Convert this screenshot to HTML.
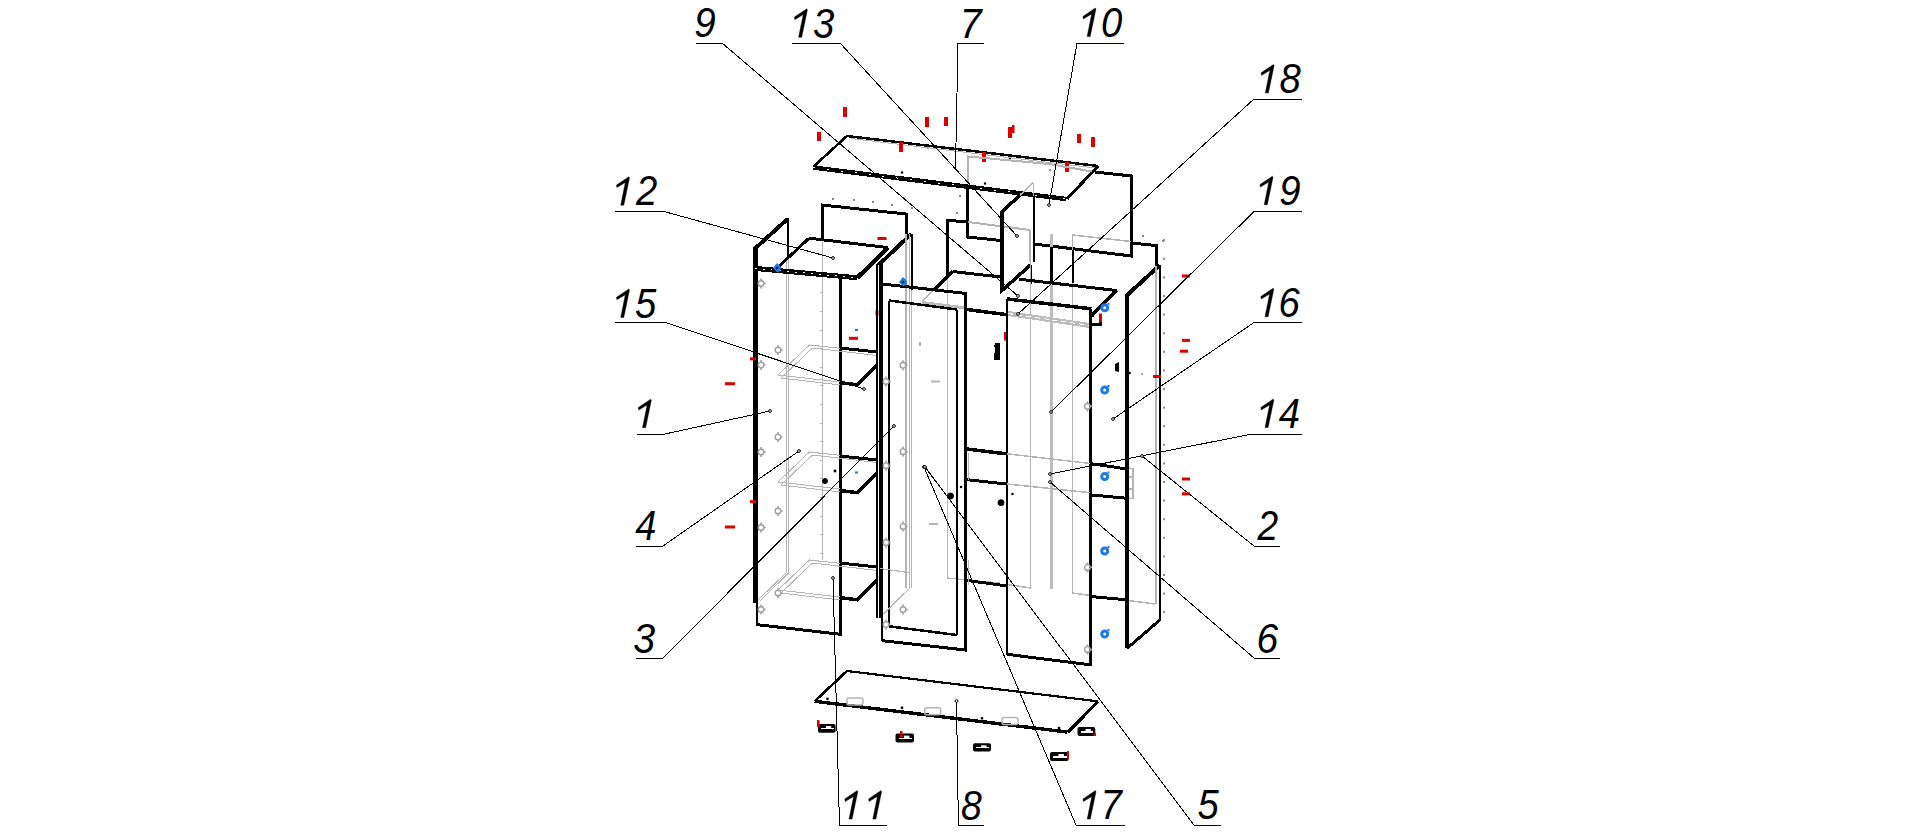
<!DOCTYPE html>
<html><head><meta charset="utf-8"><style>
html,body{margin:0;padding:0;background:#fff;width:1916px;height:834px;overflow:hidden}
svg{position:absolute;left:0;top:0}
line,polyline,polygon{shape-rendering:crispEdges}
.g{shape-rendering:geometricPrecision}
text{font-family:"Liberation Sans",sans-serif;font-style:italic;font-size:42.5px;fill:#000}
</style></head><body>
<svg width="1916" height="834" viewBox="0 0 1916 834">
<line x1="847" y1="136" x2="1098" y2="166" stroke="#000" stroke-width="2.5"/>
<line x1="813" y1="167" x2="847" y2="136" stroke="#000" stroke-width="2.6"/>
<line x1="813" y1="167.5" x2="1066" y2="199" stroke="#000" stroke-width="4.5"/>
<line x1="813" y1="167.5" x2="1066" y2="199" stroke="#fff" stroke-width="1" stroke-dasharray="2 12"/>
<rect x="900.9" y="171.4" width="2.2" height="2.2" fill="#000"/>
<rect x="983.9" y="182.4" width="2.2" height="2.2" fill="#000"/>
<rect x="1008.9" y="157.6" width="2.2" height="2.2" fill="#000"/>
<rect x="926.9" y="146.9" width="2.2" height="2.2" fill="#999"/>
<rect x="1048.9" y="168.9" width="2.2" height="2.2" fill="#999"/>
<line x1="1098" y1="166" x2="1067" y2="199" stroke="#000" stroke-width="3"/>
<line x1="851" y1="138.5" x2="1095" y2="168" stroke="#b4b4b4" stroke-width="1"/>
<rect x="843" y="107" width="4" height="10" fill="#e00000"/>
<rect x="817" y="132" width="4" height="9" fill="#e00000"/>
<rect x="899" y="142" width="4" height="10" fill="#e00000"/>
<rect x="925" y="117" width="4" height="10" fill="#e00000"/>
<rect x="944" y="117" width="4" height="9" fill="#e00000"/>
<rect x="1008" y="127" width="4" height="11" fill="#e00000"/>
<rect x="982" y="152" width="4" height="10" fill="#e00000"/>
<rect x="1065" y="162" width="4" height="10" fill="#e00000"/>
<rect x="1077" y="134" width="4" height="9" fill="#e00000"/>
<rect x="1091" y="137" width="4" height="10" fill="#e00000"/>
<rect x="1012" y="125" width="2.5" height="8" fill="#e00000"/>
<polyline points="822,239 822,205 906,214 906,237" fill="none" stroke="#000" stroke-width="3" stroke-linejoin="miter"/>
<line x1="822.5" y1="239" x2="822.5" y2="560" stroke="#b4b4b4" stroke-width="1"/>
<line x1="819.5" y1="292.8" x2="822.5" y2="292.8" stroke="#b4b4b4" stroke-width="1"/>
<line x1="819.5" y1="311.40000000000003" x2="822.5" y2="311.40000000000003" stroke="#b4b4b4" stroke-width="1"/>
<line x1="819.5" y1="330.00000000000006" x2="822.5" y2="330.00000000000006" stroke="#b4b4b4" stroke-width="1"/>
<line x1="819.5" y1="348.6000000000001" x2="822.5" y2="348.6000000000001" stroke="#b4b4b4" stroke-width="1"/>
<line x1="819.5" y1="367.2000000000001" x2="822.5" y2="367.2000000000001" stroke="#b4b4b4" stroke-width="1"/>
<line x1="819.5" y1="385.8000000000001" x2="822.5" y2="385.8000000000001" stroke="#b4b4b4" stroke-width="1"/>
<line x1="819.5" y1="404.40000000000015" x2="822.5" y2="404.40000000000015" stroke="#b4b4b4" stroke-width="1"/>
<line x1="819.5" y1="423.00000000000017" x2="822.5" y2="423.00000000000017" stroke="#b4b4b4" stroke-width="1"/>
<line x1="819.5" y1="441.6000000000002" x2="822.5" y2="441.6000000000002" stroke="#b4b4b4" stroke-width="1"/>
<line x1="819.5" y1="460.2000000000002" x2="822.5" y2="460.2000000000002" stroke="#b4b4b4" stroke-width="1"/>
<line x1="819.5" y1="478.80000000000024" x2="822.5" y2="478.80000000000024" stroke="#b4b4b4" stroke-width="1"/>
<line x1="819.5" y1="497.40000000000026" x2="822.5" y2="497.40000000000026" stroke="#b4b4b4" stroke-width="1"/>
<line x1="819.5" y1="516.0000000000002" x2="822.5" y2="516.0000000000002" stroke="#b4b4b4" stroke-width="1"/>
<line x1="819.5" y1="534.6000000000003" x2="822.5" y2="534.6000000000003" stroke="#b4b4b4" stroke-width="1"/>
<line x1="819.5" y1="553.2000000000003" x2="822.5" y2="553.2000000000003" stroke="#b4b4b4" stroke-width="1"/>
<polyline points="786,573 758,600" fill="none" stroke="#b4b4b4" stroke-width="1" stroke-linejoin="miter"/>
<polyline points="788.5,573 760,601" fill="none" stroke="#b4b4b4" stroke-width="1" stroke-linejoin="miter"/>
<rect x="832.0" y="198.0" width="2.0" height="2.0" fill="#888"/>
<rect x="853.0" y="199.0" width="2.0" height="2.0" fill="#888"/>
<rect x="872.0" y="201.0" width="2.0" height="2.0" fill="#888"/>
<rect x="891.0" y="204.0" width="2.0" height="2.0" fill="#888"/>
<rect x="911.0" y="207.0" width="2.0" height="2.0" fill="#888"/>
<rect x="956.0" y="212.0" width="2.0" height="2.0" fill="#888"/>
<rect x="959.0" y="195.0" width="2.0" height="2.0" fill="#888"/>
<polyline points="967.5,186 967.5,237 1001,240.5" fill="none" stroke="#000" stroke-width="3" stroke-linejoin="miter"/>
<polyline points="968,182 968,156.5 1049,164 1092,171.5" fill="none" stroke="#b4b4b4" stroke-width="2" stroke-linejoin="miter"/>
<line x1="968" y1="222" x2="1030" y2="230" stroke="#b4b4b4" stroke-width="2"/>
<line x1="1030" y1="230" x2="1030" y2="262" stroke="#b4b4b4" stroke-width="1.5"/>
<polyline points="1020,195 1002,211.8 1002,290.5 1030.5,265" fill="none" stroke="#000" stroke-width="3.5" stroke-linejoin="miter"/>
<line x1="1033.5" y1="195.6" x2="1033.5" y2="262" stroke="#000" stroke-width="2"/>
<line x1="1020" y1="195" x2="1033" y2="183" stroke="#b4b4b4" stroke-width="1.5"/>
<line x1="1033.5" y1="183" x2="1033.5" y2="196" stroke="#b4b4b4" stroke-width="1.5"/>
<polyline points="1095,172 1131.5,176 1131.5,256 1034,244" fill="none" stroke="#000" stroke-width="3" stroke-linejoin="miter"/>
<polyline points="1072.5,249 1072.5,235 1131,241.5" fill="none" stroke="#b4b4b4" stroke-width="1.5" stroke-linejoin="miter"/>
<polyline points="1131.5,243 1156,245.5 1156,266" fill="none" stroke="#000" stroke-width="3" stroke-linejoin="miter"/>
<polyline points="947.5,275 947.5,220.5 967,221.7" fill="none" stroke="#000" stroke-width="3" stroke-linejoin="miter"/>
<line x1="947.5" y1="275" x2="947.5" y2="578" stroke="#b4b4b4" stroke-width="1"/>
<line x1="947.5" y1="578" x2="1000" y2="583" stroke="#b4b4b4" stroke-width="1.2"/>
<line x1="1051.5" y1="234" x2="1051.5" y2="589" stroke="#bdbdbd" stroke-width="3"/>
<line x1="1072.5" y1="249" x2="1072.5" y2="593" stroke="#b4b4b4" stroke-width="1"/>
<line x1="1051.5" y1="246.5" x2="1051.5" y2="282" stroke="#000" stroke-width="3"/>
<line x1="1072.5" y1="249.5" x2="1072.5" y2="283" stroke="#000" stroke-width="2"/>
<line x1="1030.5" y1="265" x2="1030.5" y2="283.5" stroke="#000" stroke-width="2"/>
<line x1="1030.5" y1="230" x2="1030.5" y2="588" stroke="#b4b4b4" stroke-width="1"/>
<line x1="1007" y1="584.5" x2="1031" y2="588" stroke="#b4b4b4" stroke-width="1.5"/>
<line x1="1072" y1="593" x2="1155" y2="604" stroke="#b4b4b4" stroke-width="1.5"/>
<line x1="952.5" y1="271.5" x2="1002" y2="277.2" stroke="#000" stroke-width="3"/>
<line x1="1019" y1="279.2" x2="1116.5" y2="290.5" stroke="#000" stroke-width="3"/>
<line x1="952.5" y1="271.5" x2="935" y2="289" stroke="#000" stroke-width="3"/>
<line x1="935" y1="289" x2="922" y2="301.5" stroke="#b4b4b4" stroke-width="1.5"/>
<line x1="1116.5" y1="290.5" x2="1091.4" y2="315.8" stroke="#000" stroke-width="4"/>
<line x1="966" y1="309.4" x2="1007.2" y2="314.7" stroke="#000" stroke-width="3.5"/>
<line x1="922" y1="302.5" x2="966" y2="308" stroke="#bcbcbc" stroke-width="3"/>
<line x1="1008" y1="313.5" x2="1090" y2="325.5" stroke="#bcbcbc" stroke-width="5"/>
<line x1="1008" y1="313.5" x2="1090" y2="325.5" stroke="#fff" stroke-width="1" stroke-dasharray="5 4"/>
<polyline points="1091,324.5 1100.5,324.5 1100.5,317" fill="none" stroke="#000" stroke-width="2.5" stroke-linejoin="miter"/>
<line x1="755.5" y1="248" x2="755.5" y2="603" stroke="#000" stroke-width="5"/>
<line x1="756.5" y1="603" x2="756.5" y2="624.5" stroke="#000" stroke-width="2"/>
<line x1="754" y1="249.5" x2="787.5" y2="219" stroke="#000" stroke-width="4"/>
<line x1="788" y1="218" x2="788" y2="258" stroke="#000" stroke-width="2"/>
<line x1="786.5" y1="257" x2="786.5" y2="573" stroke="#b4b4b4" stroke-width="1"/>
<line x1="788.5" y1="257" x2="788.5" y2="573" stroke="#b4b4b4" stroke-width="1"/>
<line x1="755" y1="268.4" x2="857.3" y2="277.8" stroke="#000" stroke-width="5"/>
<line x1="755" y1="268.4" x2="857.3" y2="277.8" stroke="#fff" stroke-width="1" stroke-dasharray="2 6"/>
<line x1="777.4" y1="267.7" x2="809" y2="238.2" stroke="#000" stroke-width="3"/>
<line x1="809" y1="238.2" x2="888.2" y2="247.6" stroke="#000" stroke-width="3"/>
<line x1="888.2" y1="247.6" x2="857.3" y2="277.8" stroke="#000" stroke-width="4.5"/>
<line x1="840.5" y1="277" x2="840.5" y2="635" stroke="#000" stroke-width="3"/>
<line x1="756" y1="624.5" x2="842" y2="634.5" stroke="#000" stroke-width="3"/>
<polyline points="840,382 778,375 809.4,345 877,352.5" fill="none" stroke="#b4b4b4" stroke-width="1" stroke-linejoin="miter"/>
<polyline points="840,385 781,378 812.4,348 877,355.5" fill="none" stroke="#b4b4b4" stroke-width="1" stroke-linejoin="miter"/>
<polyline points="840,489 778,482 809.4,452 877,459.5" fill="none" stroke="#b4b4b4" stroke-width="1" stroke-linejoin="miter"/>
<polyline points="840,492 781,485 812.4,455 877,462.5" fill="none" stroke="#b4b4b4" stroke-width="1" stroke-linejoin="miter"/>
<polyline points="840,597 778,590 809.4,560 877,567.5" fill="none" stroke="#b4b4b4" stroke-width="1" stroke-linejoin="miter"/>
<polyline points="840,600 781,593 812.4,563 877,570.5" fill="none" stroke="#b4b4b4" stroke-width="1" stroke-linejoin="miter"/>
<line x1="840" y1="348" x2="877" y2="352" stroke="#000" stroke-width="3"/>
<polyline points="840,382.6 857.7,384.8 877,365.0" fill="none" stroke="#000" stroke-width="3.5" stroke-linejoin="miter"/>
<line x1="840" y1="456" x2="877" y2="460" stroke="#000" stroke-width="3"/>
<polyline points="840,490.5 857.7,492.7 877,472.9" fill="none" stroke="#000" stroke-width="3.5" stroke-linejoin="miter"/>
<line x1="840" y1="563" x2="877" y2="567" stroke="#000" stroke-width="3"/>
<polyline points="840,597.6 857.7,599.8000000000001 877,580.0" fill="none" stroke="#000" stroke-width="3.5" stroke-linejoin="miter"/>
<circle cx="761" cy="283.5" r="2.8" fill="none" stroke="#a0a0a0" stroke-width="1.4"/>
<rect x="760.2" y="278.5" width="1.6" height="2" fill="#a0a0a0"/>
<rect x="763.6" y="282.7" width="2" height="1.6" fill="#a0a0a0"/>
<rect x="760.2" y="286.5" width="1.6" height="2" fill="#a0a0a0"/>
<circle cx="761" cy="365" r="2.8" fill="none" stroke="#a0a0a0" stroke-width="1.4"/>
<rect x="760.2" y="360" width="1.6" height="2" fill="#a0a0a0"/>
<rect x="763.6" y="364.2" width="2" height="1.6" fill="#a0a0a0"/>
<rect x="760.2" y="368" width="1.6" height="2" fill="#a0a0a0"/>
<circle cx="761" cy="452" r="2.8" fill="none" stroke="#a0a0a0" stroke-width="1.4"/>
<rect x="760.2" y="447" width="1.6" height="2" fill="#a0a0a0"/>
<rect x="763.6" y="451.2" width="2" height="1.6" fill="#a0a0a0"/>
<rect x="760.2" y="455" width="1.6" height="2" fill="#a0a0a0"/>
<circle cx="761" cy="527.5" r="2.8" fill="none" stroke="#a0a0a0" stroke-width="1.4"/>
<rect x="760.2" y="522.5" width="1.6" height="2" fill="#a0a0a0"/>
<rect x="763.6" y="526.7" width="2" height="1.6" fill="#a0a0a0"/>
<rect x="760.2" y="530.5" width="1.6" height="2" fill="#a0a0a0"/>
<circle cx="761" cy="609.5" r="2.8" fill="none" stroke="#a0a0a0" stroke-width="1.4"/>
<rect x="760.2" y="604.5" width="1.6" height="2" fill="#a0a0a0"/>
<rect x="763.6" y="608.7" width="2" height="1.6" fill="#a0a0a0"/>
<rect x="760.2" y="612.5" width="1.6" height="2" fill="#a0a0a0"/>
<circle cx="778" cy="350" r="2.8" fill="none" stroke="#a0a0a0" stroke-width="1.4"/>
<rect x="777.2" y="345" width="1.6" height="2" fill="#a0a0a0"/>
<rect x="780.6" y="349.2" width="2" height="1.6" fill="#a0a0a0"/>
<rect x="777.2" y="353" width="1.6" height="2" fill="#a0a0a0"/>
<circle cx="778" cy="437" r="2.8" fill="none" stroke="#a0a0a0" stroke-width="1.4"/>
<rect x="777.2" y="432" width="1.6" height="2" fill="#a0a0a0"/>
<rect x="780.6" y="436.2" width="2" height="1.6" fill="#a0a0a0"/>
<rect x="777.2" y="440" width="1.6" height="2" fill="#a0a0a0"/>
<circle cx="778" cy="511" r="2.8" fill="none" stroke="#a0a0a0" stroke-width="1.4"/>
<rect x="777.2" y="506" width="1.6" height="2" fill="#a0a0a0"/>
<rect x="780.6" y="510.2" width="2" height="1.6" fill="#a0a0a0"/>
<rect x="777.2" y="514" width="1.6" height="2" fill="#a0a0a0"/>
<circle cx="778" cy="593" r="2.8" fill="none" stroke="#a0a0a0" stroke-width="1.4"/>
<rect x="777.2" y="588" width="1.6" height="2" fill="#a0a0a0"/>
<rect x="780.6" y="592.2" width="2" height="1.6" fill="#a0a0a0"/>
<rect x="777.2" y="596" width="1.6" height="2" fill="#a0a0a0"/>
<rect x="750" y="357.3" width="6" height="3" fill="#e00000"/>
<rect x="725" y="382.2" width="10" height="3" fill="#e00000"/>
<rect x="750" y="500.1" width="6" height="3" fill="#e00000"/>
<rect x="725" y="525.5" width="10" height="3" fill="#e00000"/>
<rect x="849" y="336.8" width="9" height="3" fill="#e00000"/>
<rect x="877.5" y="237" width="9" height="3" fill="#e00000"/>
<rect x="875.5" y="310.5" width="3" height="5" fill="#e00000"/>
<rect x="919" y="342" width="2" height="4" fill="#aaa"/>
<rect x="855" y="329" width="3" height="2" fill="#1e78e6"/>
<rect x="855" y="471.5" width="3" height="2" fill="#1e78e6"/>
<rect x="833.7" y="469.7" width="2.6" height="2.6" fill="#000"/>
<circle cx="825" cy="481" r="2.5" fill="#000" stroke="#000" stroke-width="1"/>
<line x1="877" y1="263.6" x2="877" y2="618.4" stroke="#000" stroke-width="2"/>
<line x1="881" y1="263.6" x2="881" y2="618.4" stroke="#000" stroke-width="4"/>
<line x1="882" y1="618" x2="882" y2="641" stroke="#000" stroke-width="2"/>
<line x1="878.5" y1="265" x2="911.3" y2="234" stroke="#000" stroke-width="4"/>
<line x1="911.5" y1="234" x2="911.5" y2="290" stroke="#000" stroke-width="2"/>
<line x1="906" y1="234" x2="906" y2="588" stroke="#b4b4b4" stroke-width="2"/>
<line x1="909.5" y1="234" x2="909.5" y2="588" stroke="#b4b4b4" stroke-width="1"/>
<line x1="911.5" y1="290" x2="911.5" y2="588" stroke="#b4b4b4" stroke-width="1"/>
<polyline points="882,284 965.5,293.4 965.5,650 882,640.7" fill="none" stroke="#000" stroke-width="3" stroke-linejoin="miter"/>
<line x1="889" y1="300.5" x2="889" y2="627" stroke="#000" stroke-width="2"/>
<line x1="957" y1="309.5" x2="957" y2="635" stroke="#000" stroke-width="2"/>
<line x1="889" y1="300.5" x2="957" y2="309.5" stroke="#000" stroke-width="2.5"/>
<line x1="889" y1="626.3" x2="957" y2="635" stroke="#000" stroke-width="2.5"/>
<line x1="880" y1="568.5" x2="910" y2="572.8" stroke="#b4b4b4" stroke-width="1.2"/>
<line x1="883.6" y1="613.8" x2="910" y2="588" stroke="#b4b4b4" stroke-width="1.2"/>
<circle cx="903" cy="365.3" r="2.8" fill="none" stroke="#a0a0a0" stroke-width="1.4"/>
<rect x="902.2" y="360.3" width="1.6" height="2" fill="#a0a0a0"/>
<rect x="905.6" y="364.5" width="2" height="1.6" fill="#a0a0a0"/>
<rect x="902.2" y="368.3" width="1.6" height="2" fill="#a0a0a0"/>
<circle cx="886" cy="381.5" r="2.8" fill="none" stroke="#a0a0a0" stroke-width="1.4"/>
<rect x="885.2" y="376.5" width="1.6" height="2" fill="#a0a0a0"/>
<rect x="888.6" y="380.7" width="2" height="1.6" fill="#a0a0a0"/>
<rect x="885.2" y="384.5" width="1.6" height="2" fill="#a0a0a0"/>
<circle cx="903" cy="451.7" r="2.8" fill="none" stroke="#a0a0a0" stroke-width="1.4"/>
<rect x="902.2" y="446.7" width="1.6" height="2" fill="#a0a0a0"/>
<rect x="905.6" y="450.9" width="2" height="1.6" fill="#a0a0a0"/>
<rect x="902.2" y="454.7" width="1.6" height="2" fill="#a0a0a0"/>
<circle cx="886" cy="465.7" r="2.8" fill="none" stroke="#a0a0a0" stroke-width="1.4"/>
<rect x="885.2" y="460.7" width="1.6" height="2" fill="#a0a0a0"/>
<rect x="888.6" y="464.9" width="2" height="1.6" fill="#a0a0a0"/>
<rect x="885.2" y="468.7" width="1.6" height="2" fill="#a0a0a0"/>
<circle cx="903" cy="526.4" r="2.8" fill="none" stroke="#a0a0a0" stroke-width="1.4"/>
<rect x="902.2" y="521.4" width="1.6" height="2" fill="#a0a0a0"/>
<rect x="905.6" y="525.6" width="2" height="1.6" fill="#a0a0a0"/>
<rect x="902.2" y="529.4" width="1.6" height="2" fill="#a0a0a0"/>
<circle cx="886" cy="542.6" r="2.8" fill="none" stroke="#a0a0a0" stroke-width="1.4"/>
<rect x="885.2" y="537.6" width="1.6" height="2" fill="#a0a0a0"/>
<rect x="888.6" y="541.8000000000001" width="2" height="1.6" fill="#a0a0a0"/>
<rect x="885.2" y="545.6" width="1.6" height="2" fill="#a0a0a0"/>
<circle cx="903" cy="609.5" r="2.8" fill="none" stroke="#a0a0a0" stroke-width="1.4"/>
<rect x="902.2" y="604.5" width="1.6" height="2" fill="#a0a0a0"/>
<rect x="905.6" y="608.7" width="2" height="1.6" fill="#a0a0a0"/>
<rect x="902.2" y="612.5" width="1.6" height="2" fill="#a0a0a0"/>
<circle cx="886" cy="624.6" r="2.8" fill="none" stroke="#a0a0a0" stroke-width="1.4"/>
<rect x="885.2" y="619.6" width="1.6" height="2" fill="#a0a0a0"/>
<rect x="888.6" y="623.8000000000001" width="2" height="1.6" fill="#a0a0a0"/>
<rect x="885.2" y="627.6" width="1.6" height="2" fill="#a0a0a0"/>
<rect x="931" y="380.5" width="9" height="2" fill="#b4b4b4"/>
<rect x="929" y="523" width="9" height="2" fill="#b4b4b4"/>
<rect x="995" y="343" width="5" height="17" fill="#000"/>
<rect x="994" y="353" width="6" height="7" fill="#000"/>
<rect x="994" y="345" width="2" height="2" fill="#000"/>
<rect x="1004" y="332" width="3" height="8.5" fill="#e00000"/>
<circle cx="950.5" cy="496" r="3" fill="#000" stroke="#000" stroke-width="1"/>
<circle cx="1001" cy="502.7" r="3" fill="#000" stroke="#000" stroke-width="1"/>
<line x1="1007" y1="299" x2="1007" y2="655" stroke="#000" stroke-width="2"/>
<line x1="966.7" y1="449" x2="1006" y2="453.8" stroke="#000" stroke-width="3.5"/>
<line x1="967" y1="479.7" x2="1006" y2="484" stroke="#000" stroke-width="3"/>
<line x1="966.7" y1="580.4" x2="1006" y2="585.8" stroke="#000" stroke-width="3"/>
<line x1="968.5" y1="453" x2="968.5" y2="480" stroke="#b4b4b4" stroke-width="1.3"/>
<line x1="968.5" y1="585" x2="968.5" y2="560" stroke="#b4b4b4" stroke-width="1.3"/>
<rect x="959.9" y="485.9" width="2.2" height="2.2" fill="#000"/>
<rect x="1011.4" y="492.9" width="2.2" height="2.2" fill="#000"/>
<polyline points="1128,468 1133,468.5 1133,498.5 1128,498" fill="none" stroke="#b4b4b4" stroke-width="1.3" stroke-linejoin="miter"/>
<line x1="1129" y1="477" x2="1133" y2="477" stroke="#b4b4b4" stroke-width="1.2"/>
<line x1="1129" y1="489" x2="1133" y2="489" stroke="#b4b4b4" stroke-width="1.2"/>
<line x1="1007.2" y1="299" x2="1091.4" y2="308.8" stroke="#000" stroke-width="3.5"/>
<line x1="1007" y1="654.3" x2="1091.7" y2="665" stroke="#000" stroke-width="3"/>
<line x1="1090.5" y1="309" x2="1090.5" y2="665" stroke="#000" stroke-width="3"/>
<line x1="1007" y1="453.8" x2="1090" y2="463.5" stroke="#b4b4b4" stroke-width="1.5"/>
<line x1="1007" y1="484" x2="1090" y2="492.7" stroke="#b4b4b4" stroke-width="1.5"/>
<circle cx="1087.4" cy="406.3" r="2.8" fill="none" stroke="#a0a0a0" stroke-width="1.4"/>
<rect x="1086.6000000000001" y="401.3" width="1.6" height="2" fill="#a0a0a0"/>
<rect x="1090.0" y="405.5" width="2" height="1.6" fill="#a0a0a0"/>
<rect x="1086.6000000000001" y="409.3" width="1.6" height="2" fill="#a0a0a0"/>
<circle cx="1087.4" cy="567.4" r="2.8" fill="none" stroke="#a0a0a0" stroke-width="1.4"/>
<rect x="1086.6000000000001" y="562.4" width="1.6" height="2" fill="#a0a0a0"/>
<rect x="1090.0" y="566.6" width="2" height="1.6" fill="#a0a0a0"/>
<rect x="1086.6000000000001" y="570.4" width="1.6" height="2" fill="#a0a0a0"/>
<circle cx="1087.4" cy="649.4" r="2.8" fill="none" stroke="#a0a0a0" stroke-width="1.4"/>
<rect x="1086.6000000000001" y="644.4" width="1.6" height="2" fill="#a0a0a0"/>
<rect x="1090.0" y="648.6" width="2" height="1.6" fill="#a0a0a0"/>
<rect x="1086.6000000000001" y="652.4" width="1.6" height="2" fill="#a0a0a0"/>
<line x1="1127" y1="295" x2="1127" y2="648.4" stroke="#000" stroke-width="3.8"/>
<line x1="1125.5" y1="296.5" x2="1159.5" y2="265.5" stroke="#000" stroke-width="4"/>
<line x1="1160" y1="265" x2="1160" y2="621" stroke="#000" stroke-width="2"/>
<line x1="1156" y1="266" x2="1156" y2="604" stroke="#b4b4b4" stroke-width="2"/>
<line x1="1127" y1="648.4" x2="1159.5" y2="620.3" stroke="#000" stroke-width="3"/>
<line x1="1090" y1="463.5" x2="1127" y2="469" stroke="#000" stroke-width="3"/>
<line x1="1090" y1="494.8" x2="1127" y2="498.3" stroke="#000" stroke-width="3"/>
<line x1="1090" y1="596.5" x2="1127" y2="599.8" stroke="#000" stroke-width="3"/>
<circle cx="1104.7" cy="307.8" r="3" fill="none" stroke="#1e78e6" stroke-width="3"/>
<rect x="1107.5" y="302.8" width="2" height="2" fill="#1e78e6"/>
<circle cx="1104.7" cy="390" r="3" fill="none" stroke="#1e78e6" stroke-width="3"/>
<rect x="1107.5" y="385" width="2" height="2" fill="#1e78e6"/>
<circle cx="1104.7" cy="476.5" r="3" fill="none" stroke="#1e78e6" stroke-width="3"/>
<rect x="1107.5" y="471.5" width="2" height="2" fill="#1e78e6"/>
<circle cx="1104.7" cy="551" r="3" fill="none" stroke="#1e78e6" stroke-width="3"/>
<rect x="1107.5" y="546" width="2" height="2" fill="#1e78e6"/>
<circle cx="1104.7" cy="634" r="3" fill="none" stroke="#1e78e6" stroke-width="3"/>
<rect x="1107.5" y="629" width="2" height="2" fill="#1e78e6"/>
<path d="M1115 364 L1119 362 L1119 372 L1115 371 Z" fill="#000"/>
<rect x="1182" y="338.9" width="8" height="3" fill="#e00000"/>
<rect x="1180" y="349.7" width="8" height="3" fill="#e00000"/>
<rect x="1153" y="375.0" width="8" height="3" fill="#e00000"/>
<rect x="1182" y="477.5" width="8" height="3" fill="#e00000"/>
<rect x="1182" y="492.3" width="8" height="3" fill="#e00000"/>
<rect x="1182" y="274.5" width="8" height="3" fill="#e00000"/>
<rect x="1099" y="313.5" width="3" height="8.5" fill="#e00000"/>
<rect x="1163.0" y="239.2" width="2.0" height="2.0" fill="#888"/>
<rect x="1163.0" y="257.8" width="2.0" height="2.0" fill="#888"/>
<rect x="1163.0" y="276.40000000000003" width="2.0" height="2.0" fill="#888"/>
<rect x="1163.0" y="295.00000000000006" width="2.0" height="2.0" fill="#888"/>
<rect x="1163.0" y="313.6000000000001" width="2.0" height="2.0" fill="#888"/>
<rect x="1163.0" y="332.2000000000001" width="2.0" height="2.0" fill="#888"/>
<rect x="1163.0" y="350.8000000000001" width="2.0" height="2.0" fill="#888"/>
<rect x="1163.0" y="369.40000000000015" width="2.0" height="2.0" fill="#888"/>
<rect x="1163.0" y="388.00000000000017" width="2.0" height="2.0" fill="#888"/>
<rect x="1163.0" y="406.6000000000002" width="2.0" height="2.0" fill="#888"/>
<rect x="1163.0" y="425.2000000000002" width="2.0" height="2.0" fill="#888"/>
<rect x="1163.0" y="443.80000000000024" width="2.0" height="2.0" fill="#888"/>
<rect x="1163.0" y="462.40000000000026" width="2.0" height="2.0" fill="#888"/>
<rect x="1163.0" y="481.0000000000003" width="2.0" height="2.0" fill="#888"/>
<rect x="1163.0" y="499.6000000000003" width="2.0" height="2.0" fill="#888"/>
<rect x="1163.0" y="518.2000000000003" width="2.0" height="2.0" fill="#888"/>
<rect x="1163.0" y="536.8000000000003" width="2.0" height="2.0" fill="#888"/>
<rect x="1163.0" y="555.4000000000003" width="2.0" height="2.0" fill="#888"/>
<rect x="1163.0" y="574.0000000000003" width="2.0" height="2.0" fill="#888"/>
<rect x="1163.0" y="592.6000000000004" width="2.0" height="2.0" fill="#888"/>
<rect x="1163.0" y="611.2000000000004" width="2.0" height="2.0" fill="#888"/>
<rect x="1128.3" y="371.8" width="2.4" height="2.4" fill="#000"/>
<rect x="1141" y="373" width="2" height="2" fill="#aaa"/>
<rect x="1142.0" y="235.0" width="2.0" height="2.0" fill="#888"/>
<rect x="1162.0" y="240.0" width="2.0" height="2.0" fill="#888"/>
<path d="M773 268 L777 263 L781 267 L780.5 271 L777 272.5 Z" fill="#1e78e6"/>
<circle cx="777" cy="268" r="1.3" fill="#123"/>
<path d="M899 282 L903 277 L907 281 L906.5 285 L903 286.5 Z" fill="#1e78e6"/>
<circle cx="903" cy="282" r="1.3" fill="#123"/>
<line x1="847" y1="671" x2="1097.7" y2="701.3" stroke="#000" stroke-width="2.2"/>
<line x1="814.5" y1="701.4" x2="847" y2="671" stroke="#000" stroke-width="2.6"/>
<line x1="814.6" y1="701.3" x2="1067" y2="732" stroke="#000" stroke-width="3.4"/>
<rect x="826.3" y="697.5999999999999" width="2.4" height="2.4" fill="#000"/>
<rect x="900.8" y="706.5" width="2.4" height="2.4" fill="#000"/>
<rect x="980.8" y="717.0999999999999" width="2.4" height="2.4" fill="#000"/>
<rect x="1057.8" y="726.8" width="2.4" height="2.4" fill="#000"/>
<line x1="1098" y1="701.8" x2="1068" y2="732" stroke="#000" stroke-width="3"/>
<rect x="847" y="698" width="16" height="7" rx="2" fill="none" stroke="#b4b4b4" stroke-width="1.5"/>
<rect x="924.7" y="707.7" width="16" height="7" rx="2" fill="none" stroke="#b4b4b4" stroke-width="1.5"/>
<rect x="1002" y="717.5" width="16" height="7" rx="2" fill="none" stroke="#b4b4b4" stroke-width="1.5"/>
<rect x="818" y="724" width="17.600000000000023" height="8.799999999999955" rx="2" fill="#000"/>
<line x1="821" y1="728.8399999999999" x2="833.6" y2="728.8399999999999" stroke="#fff" stroke-width="1.3"/>
<rect x="825.92" y="726" width="5.2800000000000065" height="2.6399999999999864" fill="#fff"/>
<rect x="895.5" y="733.6" width="18.5" height="8.899999999999977" rx="2" fill="#000"/>
<line x1="898.5" y1="738.495" x2="912" y2="738.495" stroke="#fff" stroke-width="1.3"/>
<rect x="903.825" y="735.6" width="5.55" height="2.6699999999999933" fill="#fff"/>
<rect x="973" y="743.3" width="18" height="8.100000000000023" rx="2" fill="#000"/>
<line x1="976" y1="747.755" x2="989" y2="747.755" stroke="#fff" stroke-width="1.3"/>
<rect x="981.1" y="745.3" width="5.3999999999999995" height="2.430000000000007" fill="#fff"/>
<rect x="1077.5" y="727" width="17.799999999999955" height="9" rx="2" fill="#000"/>
<line x1="1080.5" y1="731.95" x2="1093.3" y2="731.95" stroke="#fff" stroke-width="1.3"/>
<rect x="1085.51" y="729" width="5.3399999999999865" height="2.6999999999999997" fill="#fff"/>
<rect x="1050" y="752" width="18.59999999999991" height="9" rx="2" fill="#000"/>
<line x1="1053" y1="756.95" x2="1066.6" y2="756.95" stroke="#fff" stroke-width="1.3"/>
<rect x="1058.37" y="754" width="5.5799999999999725" height="2.6999999999999997" fill="#fff"/>
<rect x="817" y="720" width="2.5" height="7" fill="#e00000"/>
<rect x="900" y="731" width="2.5" height="6" fill="#e00000"/>
<rect x="1094" y="733" width="2" height="3" fill="#e00000"/>
<rect x="1067" y="751" width="2" height="8" fill="#e00000"/>
<line x1="696" y1="43" x2="722" y2="43" stroke="#000" stroke-width="1"/>
<polyline points="722,43 1018,296" fill="none" stroke="#000" stroke-width="1" stroke-linejoin="miter"/>
<circle cx="1018" cy="296" r="1.4" fill="#fff" stroke="#000" stroke-width="1"/>
<line x1="792" y1="43" x2="840" y2="43" stroke="#000" stroke-width="1"/>
<polyline points="840,43 1017,236" fill="none" stroke="#000" stroke-width="1" stroke-linejoin="miter"/>
<circle cx="1017" cy="236" r="1.4" fill="#fff" stroke="#000" stroke-width="1"/>
<line x1="958" y1="43" x2="984" y2="43" stroke="#000" stroke-width="1"/>
<polyline points="958,43 955.5,168" fill="none" stroke="#000" stroke-width="1" stroke-linejoin="miter"/>
<line x1="1077" y1="43" x2="1124" y2="43" stroke="#000" stroke-width="1"/>
<polyline points="1077,43 1049,205" fill="none" stroke="#000" stroke-width="1" stroke-linejoin="miter"/>
<circle cx="1049" cy="205" r="1.4" fill="#fff" stroke="#000" stroke-width="1"/>
<line x1="1254" y1="99" x2="1302" y2="99" stroke="#000" stroke-width="1"/>
<polyline points="1254,99 1018,314" fill="none" stroke="#000" stroke-width="1" stroke-linejoin="miter"/>
<circle cx="1018" cy="314" r="1.4" fill="#fff" stroke="#000" stroke-width="1"/>
<line x1="1254" y1="211.5" x2="1302" y2="211.5" stroke="#000" stroke-width="1"/>
<polyline points="1254,211.5 1051,412" fill="none" stroke="#000" stroke-width="1" stroke-linejoin="miter"/>
<circle cx="1051" cy="412" r="1.4" fill="#fff" stroke="#000" stroke-width="1"/>
<line x1="615" y1="211.5" x2="664" y2="211.5" stroke="#000" stroke-width="1"/>
<polyline points="664,211.5 833,258" fill="none" stroke="#000" stroke-width="1" stroke-linejoin="miter"/>
<circle cx="833" cy="258" r="1.4" fill="#fff" stroke="#000" stroke-width="1"/>
<line x1="615" y1="322" x2="664" y2="322" stroke="#000" stroke-width="1"/>
<polyline points="664,322 864,389" fill="none" stroke="#000" stroke-width="1" stroke-linejoin="miter"/>
<circle cx="864" cy="389" r="1.4" fill="#fff" stroke="#000" stroke-width="1"/>
<line x1="1254" y1="322.5" x2="1302" y2="322.5" stroke="#000" stroke-width="1"/>
<polyline points="1254,322.5 1113,419" fill="none" stroke="#000" stroke-width="1" stroke-linejoin="miter"/>
<circle cx="1113" cy="419" r="1.4" fill="#fff" stroke="#000" stroke-width="1"/>
<line x1="637" y1="434" x2="665" y2="434" stroke="#000" stroke-width="1"/>
<polyline points="665,434 770,411" fill="none" stroke="#000" stroke-width="1" stroke-linejoin="miter"/>
<circle cx="770" cy="411" r="1.4" fill="#fff" stroke="#000" stroke-width="1"/>
<line x1="1252" y1="434" x2="1302" y2="434" stroke="#000" stroke-width="1"/>
<polyline points="1252,434 1050,474" fill="none" stroke="#000" stroke-width="1" stroke-linejoin="miter"/>
<circle cx="1050" cy="474" r="1.4" fill="#fff" stroke="#000" stroke-width="1"/>
<line x1="636" y1="546" x2="663" y2="546" stroke="#000" stroke-width="1"/>
<polyline points="663,546 799,451" fill="none" stroke="#000" stroke-width="1" stroke-linejoin="miter"/>
<circle cx="799" cy="451" r="1.4" fill="#fff" stroke="#000" stroke-width="1"/>
<line x1="1254" y1="546" x2="1280" y2="546" stroke="#000" stroke-width="1"/>
<polyline points="1254,546 1142,456" fill="none" stroke="#000" stroke-width="1" stroke-linejoin="miter"/>
<circle cx="1142" cy="456" r="1.4" fill="#fff" stroke="#000" stroke-width="1"/>
<line x1="636" y1="658" x2="663" y2="658" stroke="#000" stroke-width="1"/>
<polyline points="663,658 894,426" fill="none" stroke="#000" stroke-width="1" stroke-linejoin="miter"/>
<circle cx="894" cy="426" r="1.4" fill="#fff" stroke="#000" stroke-width="1"/>
<line x1="1254" y1="658" x2="1280" y2="658" stroke="#000" stroke-width="1"/>
<polyline points="1254,658 1050,482" fill="none" stroke="#000" stroke-width="1" stroke-linejoin="miter"/>
<circle cx="1050" cy="482" r="1.4" fill="#fff" stroke="#000" stroke-width="1"/>
<line x1="839" y1="825" x2="887" y2="825" stroke="#000" stroke-width="1"/>
<polyline points="839.5,825 833,578" fill="none" stroke="#000" stroke-width="1" stroke-linejoin="miter"/>
<circle cx="833" cy="578" r="1.4" fill="#fff" stroke="#000" stroke-width="1"/>
<line x1="958" y1="825" x2="984" y2="825" stroke="#000" stroke-width="1"/>
<polyline points="958.4,825 956.5,701" fill="none" stroke="#000" stroke-width="1" stroke-linejoin="miter"/>
<circle cx="956.5" cy="701" r="1.4" fill="#fff" stroke="#000" stroke-width="1"/>
<line x1="1076" y1="825" x2="1125" y2="825" stroke="#000" stroke-width="1"/>
<polyline points="1076,825 924,467" fill="none" stroke="#000" stroke-width="1" stroke-linejoin="miter"/>
<circle cx="924" cy="467" r="1.4" fill="#fff" stroke="#000" stroke-width="1"/>
<line x1="1194" y1="825" x2="1221" y2="825" stroke="#000" stroke-width="1"/>
<polyline points="1194,825 925,467" fill="none" stroke="#000" stroke-width="1" stroke-linejoin="miter"/>
<circle cx="925" cy="467" r="1.4" fill="#fff" stroke="#000" stroke-width="1"/>
<text transform="translate(694.13,37.46) scale(0.9075,1)" font-family="Liberation Sans" font-style="italic" font-size="42.5">9</text>
<polygon class="g" points="794.40,17.10 806.80,8.80 807.40,10.00 801.70,37.30 798.60,37.30 803.20,14.60 794.80,19.70" fill="#000" stroke="#000" stroke-width="0.4"/>
<text transform="translate(812.93,37.55) scale(0.9000,1)" font-family="Liberation Sans" font-style="italic" font-size="42.5">3</text>
<text transform="translate(959.85,37.50) scale(0.9258,1)" font-family="Liberation Sans" font-style="italic" font-size="42.5">7</text>
<polygon class="g" points="1082.90,16.40 1095.30,8.10 1095.90,9.30 1090.20,36.60 1087.10,36.60 1091.70,13.90 1083.30,19.00" fill="#000" stroke="#000" stroke-width="0.4"/>
<text transform="translate(1101.06,36.85) scale(0.9000,1)" font-family="Liberation Sans" font-style="italic" font-size="42.5">0</text>
<polygon class="g" points="1261.10,72.80 1273.50,64.50 1274.10,65.70 1268.40,93.00 1265.30,93.00 1269.90,70.30 1261.50,75.40" fill="#000" stroke="#000" stroke-width="0.4"/>
<text transform="translate(1279.39,93.25) scale(0.9000,1)" font-family="Liberation Sans" font-style="italic" font-size="42.5">8</text>
<polygon class="g" points="1260.00,184.50 1272.40,176.20 1273.00,177.40 1267.30,204.70 1264.20,204.70 1268.80,182.00 1260.40,187.10" fill="#000" stroke="#000" stroke-width="0.4"/>
<text transform="translate(1279.33,204.95) scale(0.9000,1)" font-family="Liberation Sans" font-style="italic" font-size="42.5">9</text>
<polygon class="g" points="616.50,185.00 628.90,176.70 629.50,177.90 623.80,205.20 620.70,205.20 625.30,182.50 616.90,187.60" fill="#000" stroke="#000" stroke-width="0.4"/>
<text transform="translate(636.00,205.45) scale(0.9000,1)" font-family="Liberation Sans" font-style="italic" font-size="42.5">2</text>
<polygon class="g" points="616.50,297.20 628.90,288.90 629.50,290.10 623.80,317.40 620.70,317.40 625.30,294.70 616.90,299.80" fill="#000" stroke="#000" stroke-width="0.4"/>
<text transform="translate(635.04,317.65) scale(0.9000,1)" font-family="Liberation Sans" font-style="italic" font-size="42.5">5</text>
<polygon class="g" points="1260.80,296.50 1273.20,288.20 1273.80,289.40 1268.10,316.70 1265.00,316.70 1269.60,294.00 1261.20,299.10" fill="#000" stroke="#000" stroke-width="0.4"/>
<text transform="translate(1278.62,316.95) scale(0.9000,1)" font-family="Liberation Sans" font-style="italic" font-size="42.5">6</text>
<polygon class="g" points="638.30,407.50 650.70,399.20 651.30,400.40 645.60,427.70 642.50,427.70 647.10,405.00 638.70,410.10" fill="#000" stroke="#000" stroke-width="0.4"/>
<polygon class="g" points="1260.80,407.40 1273.20,399.10 1273.80,400.30 1268.10,427.60 1265.00,427.60 1269.60,404.90 1261.20,410.00" fill="#000" stroke="#000" stroke-width="0.4"/>
<text transform="translate(1278.80,427.85) scale(0.9000,1)" font-family="Liberation Sans" font-style="italic" font-size="42.5">4</text>
<text transform="translate(635.23,539.54) scale(0.8919,1)" font-family="Liberation Sans" font-style="italic" font-size="42.5">4</text>
<text transform="translate(1257.60,540.42) scale(0.8756,1)" font-family="Liberation Sans" font-style="italic" font-size="42.5">2</text>
<text transform="translate(633.24,652.88) scale(0.9267,1)" font-family="Liberation Sans" font-style="italic" font-size="42.5">3</text>
<text transform="translate(1256.50,652.89) scale(0.9172,1)" font-family="Liberation Sans" font-style="italic" font-size="42.5">6</text>
<polygon class="g" points="844.80,798.90 857.20,790.60 857.80,791.80 852.10,819.10 849.00,819.10 853.60,796.40 845.20,801.50" fill="#000" stroke="#000" stroke-width="0.4"/>
<polygon class="g" points="868.60,798.90 881.00,790.60 881.60,791.80 875.90,819.10 872.80,819.10 877.40,796.40 869.00,801.50" fill="#000" stroke="#000" stroke-width="0.4"/>
<text transform="translate(961.09,820.38) scale(0.8792,1)" font-family="Liberation Sans" font-style="italic" font-size="42.5">8</text>
<polygon class="g" points="1083.00,798.90 1095.40,790.60 1096.00,791.80 1090.30,819.10 1087.20,819.10 1091.80,796.40 1083.40,801.50" fill="#000" stroke="#000" stroke-width="0.4"/>
<text transform="translate(1100.56,819.35) scale(0.9000,1)" font-family="Liberation Sans" font-style="italic" font-size="42.5">7</text>
<text transform="translate(1197.57,819.42) scale(0.8987,1)" font-family="Liberation Sans" font-style="italic" font-size="42.5">5</text>
</svg></body></html>
